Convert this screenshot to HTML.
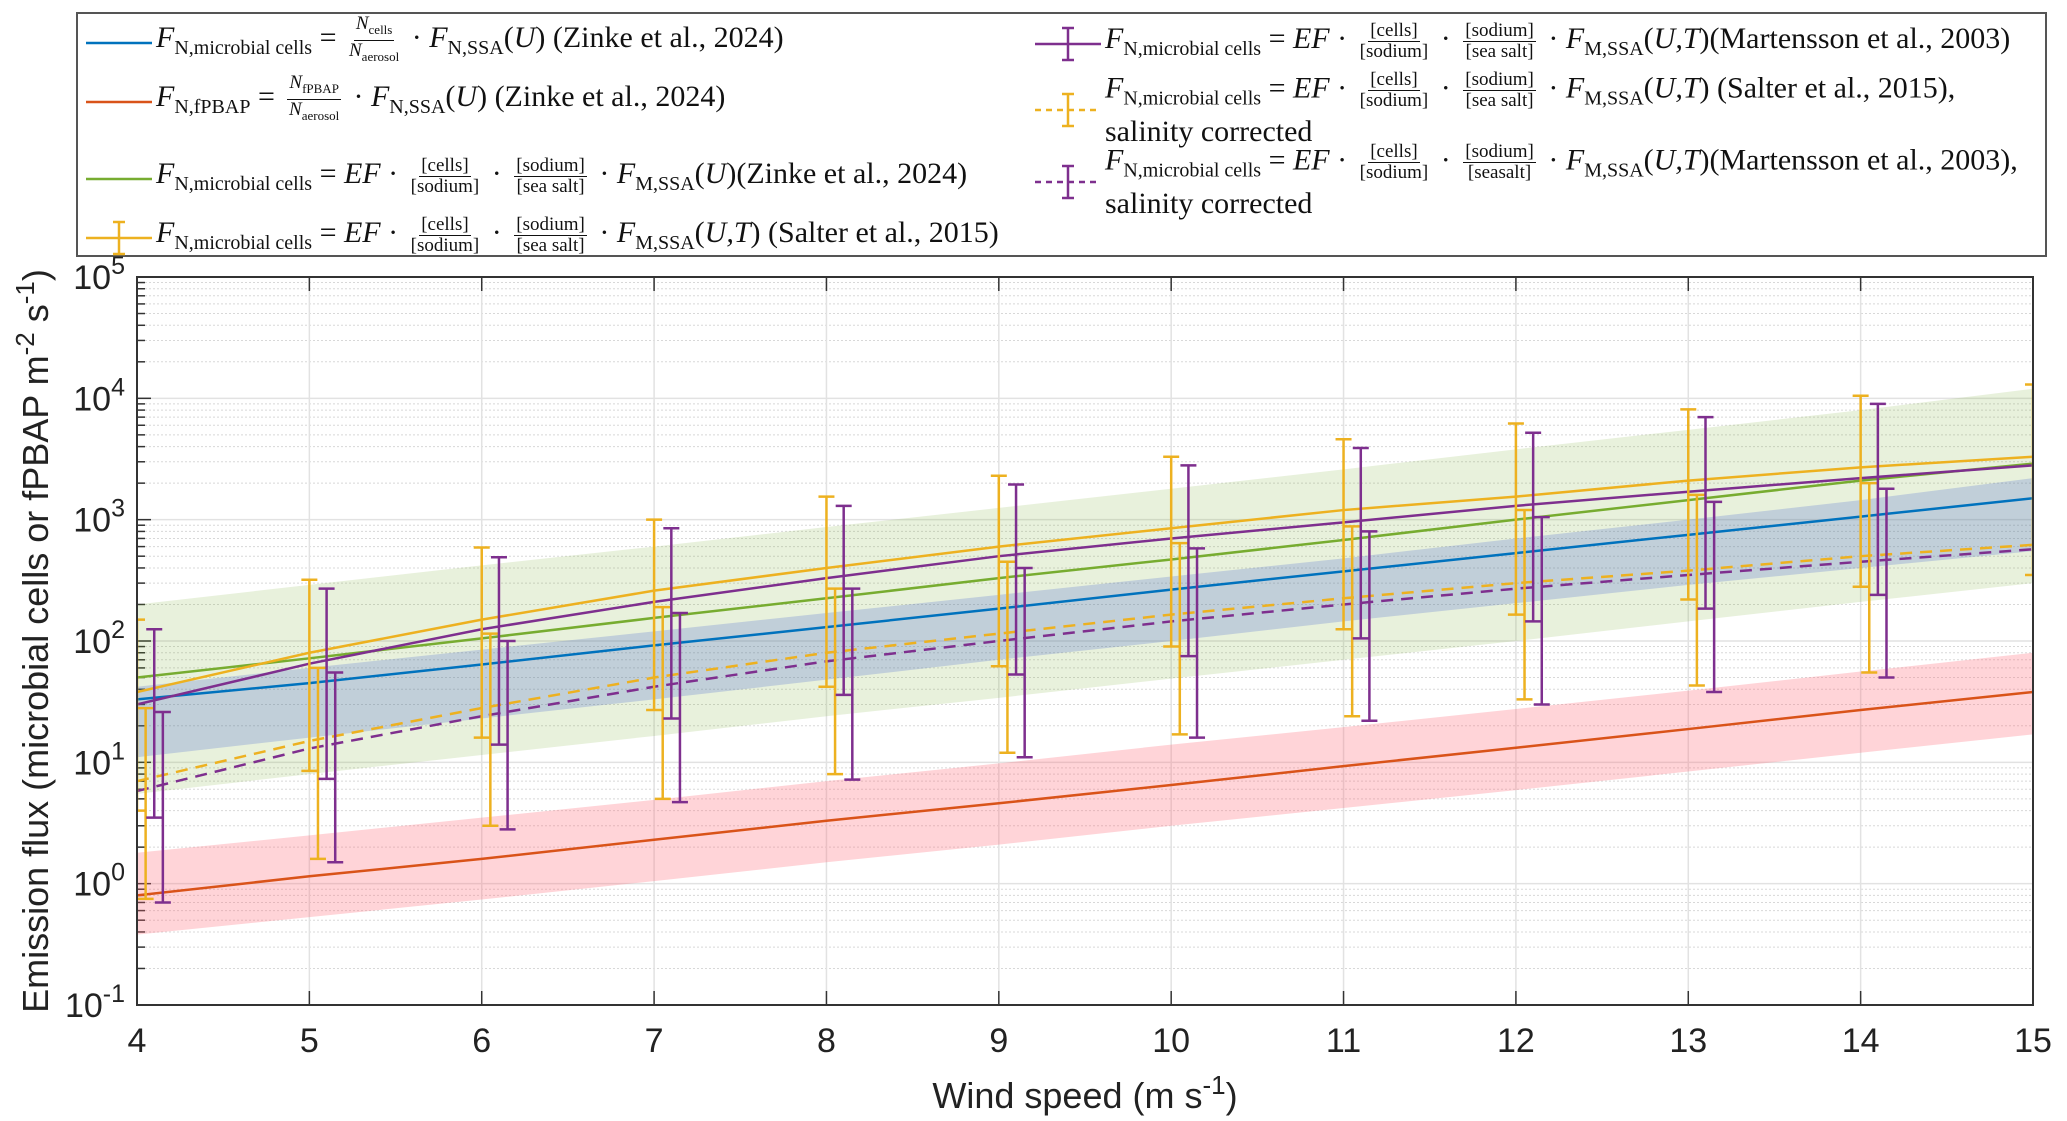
<!DOCTYPE html>
<html><head><meta charset="utf-8"><style>
body{margin:0;background:#fff;width:2067px;height:1121px;overflow:hidden;position:relative;font-family:"Liberation Serif",serif}
#legend{position:absolute;left:76px;top:12px;width:1971px;height:245px;border:2px solid #555;box-sizing:border-box;background:#fff}
.ent{position:absolute;font-size:30px;white-space:nowrap;color:#111;display:flex;align-items:center}
.ent i{font-style:italic}
.fr{display:inline-flex;flex-direction:column;align-items:center;font-size:19px;vertical-align:middle;margin:0 5px;line-height:20px}
.fr span:first-child{border-bottom:1.5px solid #111;padding:0 2px}
sub{font-size:20px}
svg text{font-family:"Liberation Sans",sans-serif}
</style></head><body>
<div id="legend"></div>
<svg id="chart" width="2067" height="1121" style="position:absolute;left:0;top:0"></svg>
<script>
const xCats=[4,5,6,7,8,9,10,11,12,13,14,15];
const blueLine=[33,45,64,92,130,185,265,375,530,750,1060,1500];
const blueLo=[11,16,23,33,48,70,100,145,205,290,400,550];
const blueHi=[42,60,85,120,170,240,340,480,700,1000,1450,2200];
const redLine=[0.8,1.15,1.6,2.3,3.3,4.6,6.5,9.3,13.2,18.8,27,38];
const redLo=[0.38,0.53,0.74,1.05,1.5,2.1,3,4.2,5.9,8.4,12,17];
const redHi=[1.8,2.5,3.5,4.9,7,9.8,14,19.5,27.5,39,56,80];
const greenLine=[50,72,105,155,225,330,470,680,1000,1450,2100,2900];
const greenLo=[5.5,8,11.5,16.5,24,34,49,70,100,145,210,300];
const greenHi=[200,290,420,600,870,1250,1800,2600,3800,5500,8000,12000];
const yellowLine=[38,80,150,260,400,600,850,1200,1550,2100,2700,3300];
const purpleLine=[30,65,125,210,330,500,700,950,1300,1700,2200,2800];
const yellowDash=[7,15,28,50,80,115,165,225,300,380,500,620];
const purpleDash=[5.8,13,24,42,68,100,145,200,270,350,450,570];
const yErrLo=[4,8.5,16,27,42,62,90,125,165,220,280,350];
const yErrHi=[150,320,590,1000,1550,2300,3300,4600,6200,8100,10500,13000];
const pErrLo=[3.5,7.3,14,23,36,53,75,105,145,185,240];
const pErrHi=[125,270,490,850,1300,1950,2800,3900,5200,7000,9000];
const ydErrLo=[0.75,1.6,3,5,8,12,17,24,33,43,55];
const ydErrHi=[28,60,115,190,270,450,640,880,1200,1600,2000];
const pdErrLo=[0.7,1.5,2.8,4.7,7.2,11,16,22,30,38,50];
const pdErrHi=[26,55,100,170,270,400,580,800,1050,1400,1800];
const xTicks=[4,5,6,7,8,9,10,11,12,13,14,15];
const yExps=[-1,0,1,2,3,4,5];

const L=137,R=2033,T=277,B=1005;
const X=v=>L+(v-4)/11*(R-L);
const Y=v=>B-(Math.log10(v)+1)/6*(B-T);
const NS="http://www.w3.org/2000/svg";
const svg=document.getElementById('chart');
function mk(tag,attrs,parent){const e=document.createElementNS(NS,tag);for(const k in attrs)e.setAttribute(k,attrs[k]);(parent||svg).appendChild(e);return e;}
const defs=mk('defs',{});const cp=mk('clipPath',{id:'cp'},defs);mk('rect',{x:L,y:T,width:R-L,height:B-T},cp);
for(let e=-1;e<5;e++){for(let m=2;m<10;m++){const g=mk('line',{x1:L,x2:R,y1:Y(m*10**e),y2:Y(m*10**e),stroke:'#d8d8d8','stroke-width':1,'stroke-dasharray':'2,2'});
 mk('line',{x1:L,x2:L+8,y1:Y(m*10**e),y2:Y(m*10**e),stroke:'#333','stroke-width':1.5});}}
yExps.forEach(e=>{const g=mk('line',{x1:L,x2:R,y1:Y(10**e),y2:Y(10**e),stroke:'#e2e2e2','stroke-width':1.5});
 mk('line',{x1:L,x2:L+14,y1:Y(10**e),y2:Y(10**e),stroke:'#333','stroke-width':1.5});
 const t=mk('text',{x:L-12,y:Y(10**e)+12,'text-anchor':'end','font-size':34,fill:'#222'});t.innerHTML='10<tspan dy="-15" font-size="25">'+e+'</tspan>';
 });
xTicks.forEach(v=>{const g=mk('line',{x1:X(v),x2:X(v),y1:T,y2:B,stroke:'#e2e2e2','stroke-width':1.5});
 mk('line',{x1:X(v),x2:X(v),y1:B,y2:B-14,stroke:'#333','stroke-width':1.5});mk('line',{x1:X(v),x2:X(v),y1:T,y2:T+14,stroke:'#333','stroke-width':1.5});
 const t=mk('text',{x:X(v),y:1052,'text-anchor':'middle','font-size':34,fill:'#222'});t.textContent=v;});
const G=mk('g',{'clip-path':'url(#cp)'});
function band(lo,hi,fill,name){let d='';xCats.forEach((x,i)=>d+=(i?'L':'M')+X(x)+','+Y(hi[i]));for(let i=xCats.length-1;i>=0;i--)d+='L'+X(xCats[i])+','+Y(lo[i]);const p=mk('path',{d:d+'Z',fill:fill,stroke:'none'},G);}
band(greenLo,greenHi,'rgba(119,172,48,0.17)','green-band');
band(blueLo,blueHi,'rgba(70,100,210,0.24)','blue-band');
band(redLo,redHi,'rgba(255,100,115,0.28)','red-band');
function line(vals,col,dash,name){const p=mk('polyline',{points:xCats.map((x,i)=>X(x)+','+Y(vals[i])).join(' '),fill:'none',stroke:col,'stroke-width':2.5,'stroke-dasharray':dash||''},G);}
function errs(off,lo,hi,col,name){lo.forEach((l,i)=>{const x=X(xCats[i]+off);const g=mk('g',{stroke:col,'stroke-width':2.5},G);
 mk('line',{x1:x,x2:x,y1:Y(l),y2:Y(hi[i])},g);mk('line',{x1:x-8,x2:x+8,y1:Y(l),y2:Y(l)},g);mk('line',{x1:x-8,x2:x+8,y1:Y(hi[i]),y2:Y(hi[i])},g);});}
line(redLine,'#D95319','','red-line');
line(blueLine,'#0072BD','','blue-line');
line(greenLine,'#77AC30','','green-line');
line(yellowDash,'#EDB120','12,8','yellow-dashed-line');
line(purpleDash,'#7E2F8E','12,8','purple-dashed-line');
line(yellowLine,'#EDB120','','yellow-line');
line(purpleLine,'#7E2F8E','','purple-line');
errs(0,yErrLo,yErrHi,'#EDB120','yellow-errorbar');
errs(0.05,ydErrLo,ydErrHi,'#EDB120','yellow-dashed-errorbar');
errs(0.1,pErrLo,pErrHi,'#7E2F8E','purple-errorbar');
errs(0.15,pdErrLo,pdErrHi,'#7E2F8E','purple-dashed-errorbar');
mk('rect',{x:L,y:T,width:R-L,height:B-T,fill:'none',stroke:'#333','stroke-width':2});
let t=mk('text',{x:1085,y:1108,'text-anchor':'middle','font-size':36,fill:'#222'});t.innerHTML='Wind speed (m s<tspan dy="-14" font-size="26">-1</tspan><tspan dy="14">)</tspan>';
t=mk('text',{x:0,y:0,'text-anchor':'middle','font-size':36,fill:'#222',transform:'translate(48,641) rotate(-90)'});t.innerHTML='Emission flux (microbial cells or fPBAP m<tspan dy="-14" font-size="26">-2</tspan><tspan dy="14"> s</tspan><tspan dy="-14" font-size="26">-1</tspan><tspan dy="14">)</tspan>';

const F='<i>F</i><sub>N,microbial cells</sub> = <i>EF</i> · <span class="fr"><span>[cells]</span><span>[sodium]</span></span> · <span class="fr"><span>[sodium]</span><span>[SALT]</span></span> · <i>F</i><sub>M,SSA</sub>';
const entries=[
 [8,0,'#0072BD','','line','<i>F</i><sub>N,microbial cells</sub> = <span class="fr"><span><i>N</i><sub style="font-size:13px">cells</sub></span><span><i>N</i><sub style="font-size:13px">aerosol</sub></span></span> · <i>F</i><sub>N,SSA</sub>(<i>U</i>) (Zinke et al., 2024)'],
 [8,59,'#D95319','','line','<i>F</i><sub>N,fPBAP</sub> = <span class="fr"><span><i>N</i><sub style="font-size:13px">fPBAP</sub></span><span><i>N</i><sub style="font-size:13px">aerosol</sub></span></span> · <i>F</i><sub>N,SSA</sub>(<i>U</i>) (Zinke et al., 2024)'],
 [8,136,'#77AC30','','line',F.replace('SALT','sea salt')+'(<i>U</i>)(Zinke et al., 2024)'],
 [8,195,'#EDB120','','err',F.replace('SALT','sea salt')+'(<i>U,T</i>) (Salter et al., 2015)'],
 [957,1,'#7E2F8E','','err',F.replace('SALT','sea salt')+'(<i>U,T</i>)(Martensson et al., 2003)'],
 [957,56,'#EDB120','6,5','err',F.replace('SALT','sea salt')+'(<i>U,T</i>) (Salter et al., 2015),<br>salinity corrected'],
 [957,128,'#7E2F8E','6,5','err',F.replace('SALT','seasalt')+'(<i>U,T</i>)(Martensson et al., 2003),<br>salinity corrected']];
const lg=document.getElementById('legend');
entries.forEach((e,i)=>{const d=document.createElement('div');d.className='ent';d.style.left=e[0]+'px';d.style.top=e[1]+'px';
 
 const two=e[5].includes('<br>');
 const body=two?e[5].split('<br>'):[e[5]];
 let sym='<svg width="68" height="48" style="flex:none"><line x1="0" x2="66" y1="24" y2="24" stroke="'+e[2]+'" stroke-width="2.5" stroke-dasharray="'+e[3]+'"/>'+(e[4]=='err'?'<g stroke="'+e[2]+'" stroke-width="2.5"><line x1="33" x2="33" y1="8" y2="40"/><line x1="27" x2="39" y1="8" y2="8"/><line x1="27" x2="39" y1="40" y2="40"/></g>':'')+'</svg>';
 d.innerHTML=sym+'<div style="margin-left:2px;line-height:'+(two?'34px':'48px')+'">'+body.join('<br>')+'</div>';
 lg.appendChild(d);});
</script>
</body></html>
